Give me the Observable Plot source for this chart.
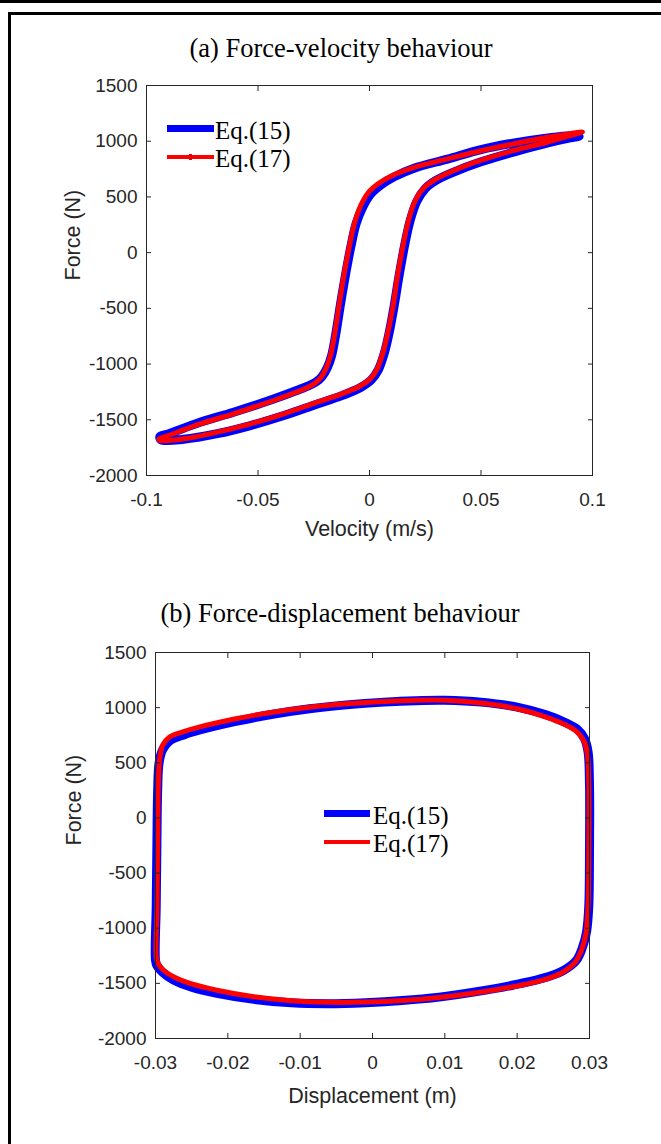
<!DOCTYPE html>
<html><head><meta charset="utf-8">
<script src="https://cdn.jsdelivr.net/npm/d3@7"></script>
<script src="https://cdn.jsdelivr.net/npm/@observablehq/plot@0.6"></script>
<style>
body{margin:0;background:#fff;}
#page{position:relative;width:661px;height:1144px;overflow:hidden;background:#fff;}
.topline{position:absolute;left:0;top:0;width:661px;height:3px;background:#000;}
.box{position:absolute;left:8px;top:12px;width:720px;height:1200px;border-left:3px solid #000;border-top:3px solid #000;}
.title{position:absolute;font-family:"Liberation Serif","Times New Roman",serif;font-size:26.5px;line-height:26px;color:#000;white-space:nowrap;transform:translateX(-50%);}
.lg-line{position:absolute;}
.lg-text{position:absolute;font-family:"Liberation Serif","Times New Roman",serif;font-size:25px;line-height:24px;color:#000;white-space:nowrap;}
.chart{position:absolute;left:0;}
</style>
</head><body>
<div id="page">
  <div class="topline"></div>
  <div class="box"></div>
  <div class="title" style="left:341px;top:35px;">(a) Force-velocity behaviour</div>
  <div class="title" style="left:340px;top:600px;">(b) Force-displacement behaviour</div>
  <div id="chartA" class="chart" style="top:70px;"></div>
  <div id="chartB" class="chart" style="top:636px;"></div>
  <div class="lg-line" style="left:167px;top:125px;width:47px;height:7px;background:#0000ff;"></div>
  <div class="lg-text" style="left:215px;top:119px;">Eq.(15)</div>
  <div class="lg-line" style="left:167px;top:155px;width:47px;height:4px;background:#ff0000;"></div>
  <div class="lg-line" style="left:189px;top:154px;width:3px;height:6px;background:#e00000;"></div>
  <div class="lg-text" style="left:215px;top:147px;">Eq.(17)</div>
  <div class="lg-line" style="left:324px;top:810px;width:46px;height:7px;background:#0000ff;"></div>
  <div class="lg-text" style="left:373px;top:804px;">Eq.(15)</div>
  <div class="lg-line" style="left:324px;top:840px;width:46px;height:4px;background:#ff0000;"></div>
  <div class="lg-text" style="left:373px;top:832px;">Eq.(17)</div>
</div>
<script>
// ---------- Data ----------
const seriesNames = ["Eq.(15)", "Eq.(17)"];
const seriesColors = ["#0000ff", "#ff0000"];

// Panel (a): force-velocity loops
const velTicks = [-0.1, -0.05, 0, 0.05, 0.1];
const forceTicks = [-2000, -1500, -1000, -500, 0, 500, 1000, 1500];

const velA17 = [-0.0945,-0.090,-0.076,-0.061,-0.043,-0.033,-0.028,-0.0245,-0.0218,-0.0195,-0.0175,-0.0157,-0.0135,-0.0112,-0.0092,-0.0068,-0.004,-0.0005,0.004,0.010,0.020,0.035,0.050,0.065,0.080,0.090,0.0955,
  0.090,0.0797,0.0647,0.0498,0.0378,0.030,0.0245,0.0205,0.0175,0.0150,0.0125,0.0105,0.0082,0.0060,0.0035,0.0005,-0.004,-0.013,-0.0234,-0.0384,-0.0534,-0.0683,-0.0833,-0.0937];
const forceA17 = [-1672,-1640,-1536,-1446,-1327,-1253,-1212,-1172,-1120,-1040,-925,-740,-450,-170,40,260,420,540,620,690,765,842,915,977,1035,1068,1083,
  1050,991,917,827,737,663,585,468,289,60,-215,-485,-720,-900,-1040,-1130,-1195,-1272,-1342,-1446,-1536,-1611,-1671,-1686];

const velA15 = [-0.0940,-0.090,-0.076,-0.061,-0.043,-0.033,-0.028,-0.0241,-0.0213,-0.0190,-0.0170,-0.0152,-0.0129,-0.0105,-0.0085,-0.0060,-0.0030,0.0005,0.005,0.011,0.020,0.035,0.050,0.065,0.080,0.090,0.0940,
  0.090,0.080,0.065,0.050,0.038,0.030,0.0250,0.0212,0.0182,0.0157,0.0132,0.0110,0.0088,0.0066,0.0040,0.0008,-0.004,-0.013,-0.0234,-0.0384,-0.0534,-0.0683,-0.0833,-0.0935];
const forceA15 = [-1650,-1625,-1522,-1432,-1314,-1240,-1200,-1162,-1112,-1035,-925,-740,-450,-170,40,260,410,525,605,680,758,840,925,985,1030,1050,1045,
  1030,985,905,815,725,650,575,460,285,60,-215,-485,-720,-905,-1050,-1142,-1210,-1288,-1358,-1462,-1552,-1625,-1675,-1680];

// Panel (b): force-displacement loops
const dispTicks = [-0.03, -0.02, -0.01, 0, 0.01, 0.02, 0.03];

const dispB17 = [-0.0299,-0.0298,-0.0297,-0.0296,-0.0294,-0.0290,-0.0281,-0.0260,-0.0240,-0.0189,-0.0138,-0.0087,-0.0036,0.0016,0.0060,0.0100,0.0150,0.0200,0.0240,0.0265,0.0282,0.0292,0.0297,0.0299,0.0299,0.0298,0.0295,0.0290,0.0280,0.0260,0.0230,0.0195,0.0144,0.0092,0.0041,-0.0010,-0.0061,-0.0112,-0.0164,-0.0215,-0.0250,-0.0275,-0.0290,-0.0297];
const forceB17 = [-1263,-800,-200,300,550,660,732,785,823,899,959,1004,1035,1056,1068,1068,1042,990,915,850,785,700,580,300,-300,-800,-1050,-1180,-1310,-1410,-1480,-1530,-1585,-1628,-1656,-1670,-1672,-1658,-1622,-1562,-1505,-1440,-1375,-1310];

const dispB15 = [-0.0300,-0.0299,-0.0298,-0.0297,-0.0295,-0.0290,-0.0280,-0.0260,-0.0240,-0.0189,-0.0138,-0.0087,-0.0036,0.0016,0.0060,0.0100,0.0150,0.0200,0.0240,0.0265,0.0283,0.0293,0.0298,0.0300,0.0300,0.0299,0.0296,0.0291,0.0282,0.0262,0.0232,0.0195,0.0144,0.0092,0.0041,-0.0010,-0.0061,-0.0112,-0.0164,-0.0215,-0.0250,-0.0275,-0.0290,-0.0298];
const forceB15 = [-1290,-800,-200,250,500,620,700,755,795,875,940,990,1025,1050,1063,1066,1050,1005,935,870,805,720,600,300,-300,-800,-1030,-1160,-1290,-1390,-1460,-1515,-1575,-1625,-1656,-1675,-1684,-1676,-1645,-1590,-1535,-1470,-1400,-1340];

// ---------- Build ----------
const rows = (xs, ys, s) => xs.map((x, i) => ({x, y: ys[i], s}));
const fmt = d => String(d);
const axisColor = "#262626";

function makePlot({data15, data17, xDomain, xTicks, ml, mr, mt, mb, xLabel, xLabelDy, yLabelDx}) {
  return Plot.plot({
    width: 661, height: 480,
    marginLeft: ml, marginRight: mr, marginTop: mt, marginBottom: mb,
    x: {domain: xDomain, label: null},
    y: {domain: [-2000, 1500], label: null},
    style: {background: "transparent", color: axisColor, fontFamily: "'Liberation Sans', Arial, sans-serif", fontSize: "19px", overflow: "visible"},
    marks: [
      Plot.line(data15, {x: "x", y: "y", stroke: seriesColors[0], strokeWidth: 9, curve: "catmull-rom-closed", strokeLinejoin: "round"}),
      Plot.line(data17, {x: "x", y: "y", stroke: seriesColors[1], strokeWidth: 5, curve: "catmull-rom-closed", strokeLinejoin: "round"}),
      Plot.frame({stroke: axisColor, strokeWidth: 1}),
      Plot.axisX(xTicks, {anchor: "bottom", tickSize: -5, tickPadding: 22, tickFormat: fmt, label: null, fontSize: 19}),
      Plot.axisX(xTicks, {anchor: "top", tickSize: -5, fill: "none", label: null}),
      Plot.axisY(forceTicks, {anchor: "left", tickSize: -5, tickPadding: 14, tickFormat: fmt, label: null, fontSize: 19}),
      Plot.axisY(forceTicks, {anchor: "right", tickSize: -5, fill: "none", label: null}),
      Plot.text([xLabel], {frameAnchor: "bottom", dy: xLabelDy, text: d => d, fontSize: 21.5, fill: axisColor}),
      Plot.text(["Force (N)"], {frameAnchor: "left", dx: yLabelDx, rotate: -90, text: d => d, fontSize: 21.5, fill: axisColor})
    ]
  });
}

const plotA = makePlot({
  data15: rows(velA15, forceA15, seriesNames[0]),
  data17: rows(velA17, forceA17, seriesNames[1]),
  xDomain: [-0.1, 0.1], xTicks: velTicks,
  ml: 146, mr: 69, mt: 15, mb: 75,
  xLabel: "Velocity (m/s)", xLabelDy: 60, yLabelDx: -73
});
document.getElementById("chartA").appendChild(plotA);

const plotB = makePlot({
  data15: rows(dispB15, forceB15, seriesNames[0]),
  data17: rows(dispB17, forceB17, seriesNames[1]),
  xDomain: [-0.03, 0.03], xTicks: dispTicks,
  ml: 155, mr: 72, mt: 16, mb: 78,
  xLabel: "Displacement (m)", xLabelDy: 64, yLabelDx: -81
});
document.getElementById("chartB").appendChild(plotB);
</script>
</body></html>
